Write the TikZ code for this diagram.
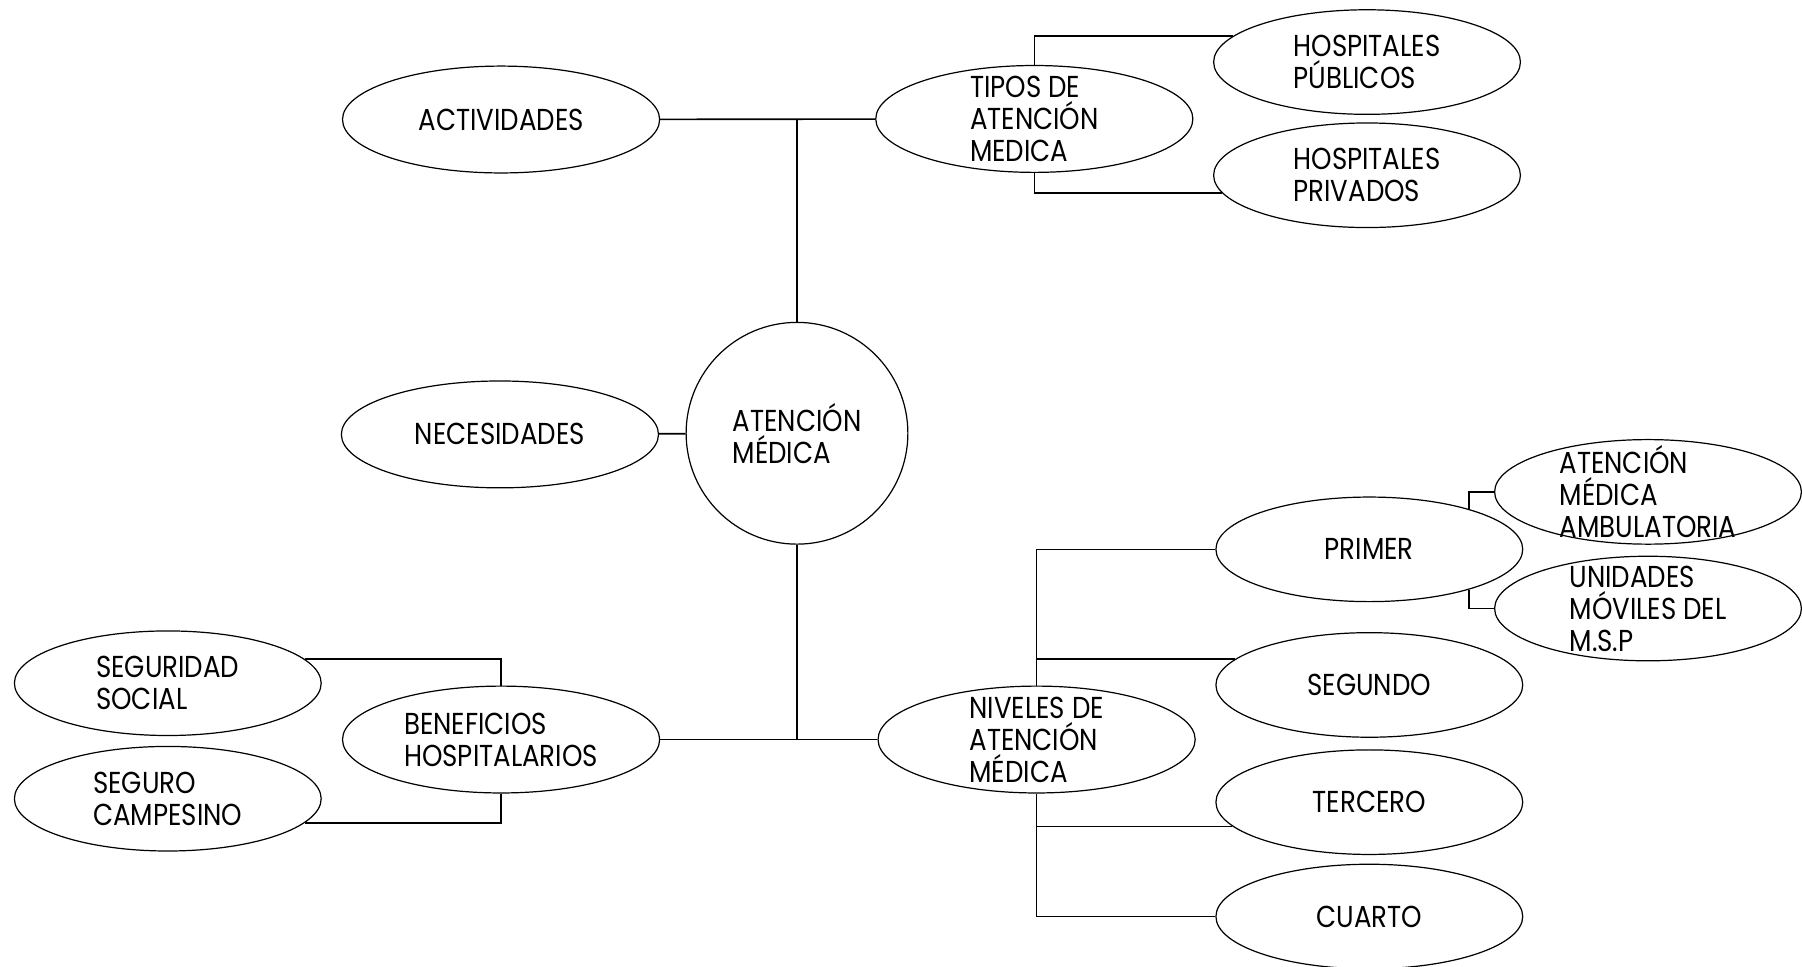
\documentclass[tikz,border=0pt]{standalone}
\usepackage{fontspec}
\setmainfont{Poppins}[FakeStretch=0.86]
\usetikzlibrary{shapes.geometric}

\begin{document}
\begin{tikzpicture}[
  x=0.02cm, y=-0.02cm,
  font=\fontsize{15}{15.9}\selectfont,
  big/.style={ellipse, draw, line width=0.6pt, minimum width=5.52cm, minimum height=1.86cm, inner sep=0pt, align=left},
  leaf/.style={ellipse, draw, line width=0.6pt, minimum width=5.34cm, minimum height=1.82cm, inner sep=0pt, align=left},
  % three-line labels: keep the ellipse at its fixed size
  tall/.style={inner ysep=-0.2cm},
  hub/.style={circle, draw, line width=0.6pt, minimum size=3.86cm, inner sep=0pt, align=left},
  link/.style={line width=0.8pt}
]
\useasboundingbox (0,0) rectangle (1568,841);

% Centre
\node[hub] (atm) at (693.5,377) {ATENCIÓN\\MÉDICA};

% Upper branch
\node[big] (act) at (436,104) {ACTIVIDADES};
\node[big, tall] (tipos) at (900,103.5) {TIPOS DE\\ATENCIÓN\\MEDICA};
\node[leaf] (hpub) at (1189.5,54) {HOSPITALES\\PÚBLICOS};
\node[leaf] (hpriv) at (1189.5,152.5) {HOSPITALES\\PRIVADOS};

% Middle
\node[big] (nec) at (435,378) {NECESIDADES};

% Lower left
\node[big] (benef) at (436,643.5) {BENEFICIOS\\HOSPITALARIOS};
\node[leaf] (segsoc) at (146,594.5) {SEGURIDAD\\SOCIAL};
\node[leaf] (segcam) at (146,695) {SEGURO\\CAMPESINO};

% Lower right: levels
\node[big, tall] (niv) at (902,643.5) {NIVELES DE\\ATENCIÓN\\MÉDICA};
\node[leaf] (primer) at (1191.5,478) {PRIMER};
\node[leaf] (segundo) at (1191.5,596) {SEGUNDO};
\node[leaf] (tercero) at (1191.5,698) {TERCERO};
\node[leaf] (cuarto) at (1191.5,797.5) {CUARTO};
\node[leaf, tall] (amb) at (1434,428) {ATENCIÓN\\MÉDICA\\AMBULATORIA};
\node[leaf, tall] (movil) at (1434,529.5) {UNIDADES\\MÓVILES DEL\\M.S.P};

% Trunk
\draw[link] (act) -- (tipos);
\draw[link] (atm.north) -- (atm.north |- act.east);
\draw[link] (nec) -- (atm);
\draw[link] (atm.south) -- (atm.south |- benef.east);
\draw[link] (benef) -- (niv);

% Brackets to the leaves
\draw[link] (tipos.north) |- (hpub.169);
\draw[link] (tipos.south) |- (hpriv.187);
\draw[link] (benef.north) |- (segsoc.10);
\draw[link] (benef.south) |- (segcam.-10);

% Levels tree
\draw[link] (niv.north) |- (primer);
\draw[link] (niv.north |- segundo.169) -- (segundo.169);
\draw[link] (niv.south |- tercero.190) -- (tercero.190);
\draw[link] (niv.south) |- (cuarto);
\draw[link] (amb.west) -| (primer.22);
\draw[link] (movil.west) -| (primer.-22);

\end{tikzpicture}
\end{document}
